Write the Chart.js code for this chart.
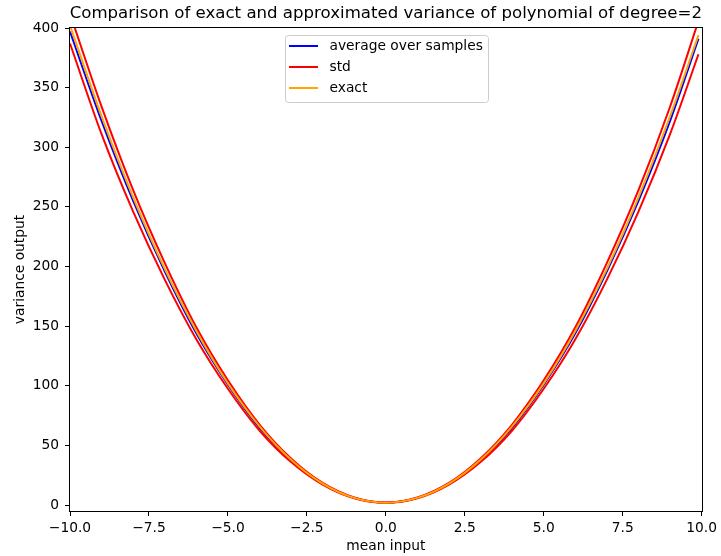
<!DOCTYPE html>
<html>
<head>
<meta charset="utf-8">
<script src="https://cdn.jsdelivr.net/npm/chart.js@4.4.1/dist/chart.umd.min.js"></script>
<style>
  html, body { margin: 0; padding: 0; background: #fff; }
</style>
</head>
<body>
<canvas id="chart" width="721" height="556"></canvas>
<script>
// Values
const meanInput = [-10, -9, -8, -7, -6, -5, -4, -3, -2, -1, 0, 1, 2, 3, 4, 5, 6, 7, 8, 9, 9.9];
const averageOverSamples = [397, 322, 255, 196, 144, 101, 65, 37.5, 17.8, 6, 2, 6, 17.8, 37.5, 65, 101, 144, 196, 255, 322, 391];
const stdUpper = [412, 334, 264, 203, 149, 104.5, 67.5, 39, 18.5, 6.3, 2.1, 6.3, 18.5, 39, 67.5, 104.5, 149, 203, 264, 334, 406];
const stdLower = [387, 311, 246, 189, 139, 97.5, 62.5, 36, 17.1, 5.7, 1.9, 5.7, 17.1, 36, 62.5, 97.5, 139, 189, 246, 311, 378];
const exact = [402, 326, 258, 198, 146, 102, 66, 38, 18, 6, 2, 6, 18, 38, 66, 102, 146, 198, 258, 326, 394];

const xTicks = [-10, -7.5, -5, -2.5, 0, 2.5, 5, 7.5, 10];
const yTicks = [0, 50, 100, 150, 200, 250, 300, 350, 400];

const FONT = 'DejaVu Sans';

// Pair x values with a series
function toPoints(values) {
    return meanInput.map((x, i) => ({ x: x, y: values[i] }));
}

// Matplotlib-style minus sign
function fmt(v, digits) {
    return v.toFixed(digits).replace('-', '\u2212');
}

// order: lower number is drawn on top
function lineSet(label, values, color, order) {
    return {
        label: label,
        data: toPoints(values),
        borderColor: color,
        backgroundColor: color,
        borderWidth: 2,
        pointRadius: 0,
        cubicInterpolationMode: 'monotone',
        fill: false,
        clip: 0,
        order: order
    };
}

// Frame, title, axis labels and the legend box, matplotlib look
const decorations = {
    id: 'decorations',
    afterDraw(chart) {
        const ctx = chart.ctx;
        const a = chart.chartArea;
        ctx.save();

        // axes frame
        ctx.strokeStyle = '#000';
        ctx.lineWidth = 1;
        ctx.strokeRect(Math.round(a.left) - 0.5, Math.round(a.top) - 0.5,
            Math.round(a.right - a.left) + 1, Math.round(a.bottom - a.top) + 1);

        // title
        ctx.fillStyle = '#000';
        ctx.font = '16.6px "' + FONT + '"';
        ctx.textAlign = 'center';
        ctx.textBaseline = 'middle';
        ctx.fillText('Comparison of exact and approximated variance of polynomial of degree=2', (a.left + a.right) / 2, 14);

        // axis labels
        ctx.font = '13.8px "' + FONT + '"';
        ctx.fillText('mean input', (a.left + a.right) / 2, 546);
        ctx.save();
        ctx.translate(20, (a.top + a.bottom) / 2);
        ctx.rotate(-Math.PI / 2);
        ctx.fillText('variance output', 0, 0);
        ctx.restore();

        // legend
        const items = chart.data.datasets.filter(d => !d.hideInLegend);
        const bx = 285.5, by = 35.5, bw = 203, bh = 67;
        ctx.beginPath();
        ctx.roundRect(bx, by, bw, bh, 3);
        ctx.fillStyle = 'rgba(255,255,255,0.8)';
        ctx.fill();
        ctx.strokeStyle = '#cccccc';
        ctx.stroke();
        ctx.textAlign = 'left';
        items.forEach((d, i) => {
            const y = 46 + i * 21;
            ctx.strokeStyle = d.borderColor;
            ctx.lineWidth = 2;
            ctx.beginPath();
            ctx.moveTo(289, y);
            ctx.lineTo(318, y);
            ctx.stroke();
            ctx.fillStyle = '#000';
            ctx.fillText(d.label, 329.5, y);
        });
        ctx.restore();
    }
};

const avgSet = lineSet('average over samples', averageOverSamples, '#0000ff', 3);
const upperSet = lineSet('std', stdUpper, '#ff0000', 2);
const lowerSet = lineSet('std', stdLower, '#ff0000', 1);
lowerSet.hideInLegend = true;
const exactSet = lineSet('exact', exact, '#ffa500', 0);

new Chart(document.getElementById('chart'), {
    type: 'line',
    data: { datasets: [avgSet, upperSet, exactSet, lowerSet] },
    options: {
        responsive: false,
        animation: false,
        devicePixelRatio: 1,
        layout: { padding: { top: 28, right: 17, left: 0, bottom: 0 } },
        plugins: {
            legend: { display: false },
            title: { display: false },
            tooltip: { enabled: false }
        },
        scales: {
            x: {
                type: 'linear',
                min: -10,
                max: 10,
                afterFit(scale) { scale.height = 45; },
                afterBuildTicks(scale) { scale.ticks = xTicks.map(v => ({ value: v })); },
                border: { display: false },
                grid: { drawOnChartArea: false, tickLength: 5, color: '#000', tickColor: '#000' },
                ticks: {
                    color: '#000',
                    padding: 4,
                    maxRotation: 0,
                    autoSkip: false,
                    font: { family: FONT, size: 13.8 },
                    callback: v => fmt(v, 1)
                }
            },
            y: {
                type: 'linear',
                min: -5,
                max: 400,
                afterFit(scale) { scale.width = 70; },
                afterBuildTicks(scale) { scale.ticks = yTicks.map(v => ({ value: v })); },
                border: { display: false },
                grid: { drawOnChartArea: false, tickLength: 5, color: '#000', tickColor: '#000' },
                ticks: {
                    color: '#000',
                    padding: 6,
                    autoSkip: false,
                    font: { family: FONT, size: 13.8 },
                    callback: v => fmt(v, 0)
                }
            }
        }
    },
    plugins: [decorations]
});
</script>
</body>
</html>
